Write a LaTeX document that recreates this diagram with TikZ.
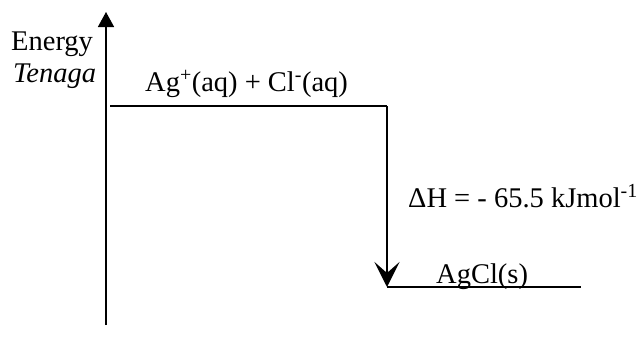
\documentclass[tikz,border=0pt]{standalone}
\usepackage{fontspec}
\setmainfont{Liberation Serif}
\usetikzlibrary{arrows.meta}
\begin{document}
\begin{tikzpicture}[x=1pt,y=-1pt,
  lbl/.style={font=\fontsize{28.5}{33}\selectfont, inner sep=0pt},
  ln/.style={line width=1.6pt},
  axisarrow/.style={ln,-{Triangle[length=15pt,width=16pt]}},
  dharrow/.style={ln,-{Stealth[length=25pt,width=25pt,inset=11pt]}}]
\useasboundingbox (0,0) rectangle (638,338);
\coordinate (ax0) at (106,325);
\coordinate (ax1) at (106,12);
\draw[axisarrow] (ax0) -- (ax1);
\node[lbl, anchor=base west] (en) at (11,50) {Energy};
\node[lbl, anchor=base west] (te) at (13,82) {\itshape Tenaga};
\coordinate (u0) at (110,106);
\coordinate (u1) at (387,106);
\draw[ln] (u0) -- (u1);
\coordinate (l0) at (387,287);
\coordinate (l1) at (581,287);
\draw[ln] (l0) -- (l1);
\draw[dharrow] (u1) -- (l0);
\node[lbl, anchor=base west] (top) at (145,91) {Ag\textsuperscript{+}(aq) + Cl\textsuperscript{-}(aq)};
\node[lbl, anchor=base west] (dh) at (408,207) {ΔH = - 65.5 kJmol\textsuperscript{-1}};
\node[lbl, anchor=base west] (bot) at (436,283) {AgCl(s)};
\end{tikzpicture}
\end{document}
